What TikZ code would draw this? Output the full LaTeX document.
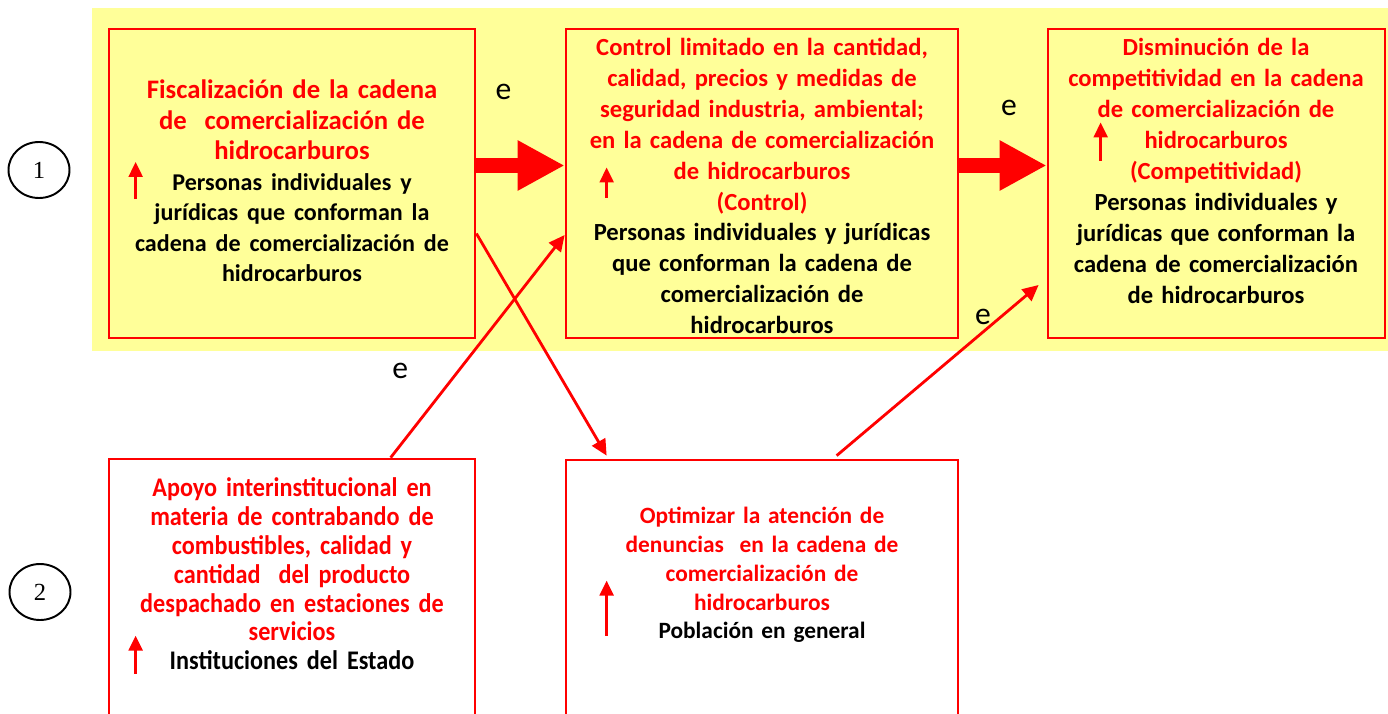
\documentclass[tikz,border=0pt]{standalone}
\usepackage{fontspec}
\setmainfont{Carlito}
\newfontfamily\numfont{Liberation Serif}
\newfontfamily\narrowfont[FakeStretch=0.9, WordSpace=0.8]{Carlito}
\usetikzlibrary{arrows.meta,calc,shapes.geometric}
\definecolor{bgyellow}{HTML}{FFFF99}
\definecolor{boxred}{HTML}{FF0000}

\begin{document}
\begin{tikzpicture}[
    x=0.02cm, y=-0.02cm,
    box/.style={rectangle, draw=boxred, line width=1.6pt, inner sep=0pt},
    txt/.style={align=center, inner sep=0pt, font=\fontsize{14}{17.6}\selectfont\bfseries},
    numcirc/.style={ellipse, draw, line width=1.1pt, minimum width=1.22cm, minimum height=1.12cm, inner sep=0pt, font=\numfont\fontsize{14}{16}\selectfont},
    bigarrow/.style={draw=boxred, line width=0.32cm, -{Triangle[length=0.94cm, width=0.94cm]}},
    link/.style={draw=boxred, line width=1.6pt, -{Triangle[length=0.32cm, width=0.3cm]}},
    uparrow/.style={draw=boxred, line width=1.4pt, -{Triangle[length=0.3cm, width=0.28cm]}},
    elabel/.style={inner sep=0pt, font=\fontsize{18}{20}\selectfont}
]
\useasboundingbox (0,0) rectangle (1388,713);
\clip (0,0) rectangle (1388,713);

% Band 1
\fill[bgyellow] (92,8) rectangle (1388,351);

\node[numcirc] (n1) at (39,170) {1};
\node[numcirc] (n2) at (40,592) {2};

\node[box, minimum width=7.32cm, minimum height=6.18cm] (b1) at (292,183.5) {};
\node[box, minimum width=7.84cm, minimum height=6.18cm] (b2) at (762,183.5) {};
\node[box, minimum width=6.74cm, minimum height=6.18cm] (b3) at (1216.5,183.5) {};

% Band 2
\node[box, fill=white, minimum width=7.32cm, minimum height=6.02cm] (b4) at (292,609.5) {};
\node[box, fill=white, minimum width=7.84cm, minimum height=6.0cm] (b5) at (762,610) {};

% Texts
\node[txt, text width=7cm, font=\fontsize{15.2}{17.4}\selectfont\bfseries] (t1) at (292,181) {\color{boxred}Fiscalización de la cadena\\
    de\ \ comercialización de\\hidrocarburos\\
    \color{black}\fontsize{13.7}{17.4}\selectfont Personas individuales y\\jurídicas que conforman la\\
    cadena de comercialización de\\hidrocarburos};

\node[txt, text width=7.6cm] (t2) at (762,186) {\color{boxred}Control limitado en la cantidad,\\
    calidad, precios y medidas de\\seguridad industria, ambiental;\\
    en la cadena de comercialización\\de hidrocarburos\\(Control)\\
    \color{black}Personas individuales y jurídicas\\que conforman la cadena de\\
    comercialización de\\hidrocarburos};

\node[txt, text width=6.5cm] (t3) at (1216,171) {\color{boxred}Disminución de la\\
    competitividad en la cadena\\de comercialización de\\hidrocarburos\\(Competitividad)\\
    \color{black}Personas individuales y\\jurídicas que conforman la\\
    cadena de comercialización\\de hidrocarburos};

\node[txt, text width=7cm, font=\narrowfont\fontsize{15.3}{16.4}\selectfont\bfseries] (t4) at (292,574) {\color{boxred}Apoyo interinstitucional en\\
    materia de contrabando de\\combustibles, calidad y\\cantidad\ \ del producto\\
    despachado en estaciones de\\servicios\\
    \color{black}Instituciones del Estado};

\node[txt, text width=7.6cm, font=\fontsize{13.3}{16.4}\selectfont\bfseries] (t5) at (762,575) {\color{boxred}Optimizar la atención de\\
    denuncias\ \ en la cadena de\\comercialización de\\hidrocarburos\\
    \color{black}Población en general};

% small arrows
\draw[uparrow] ($(b1.west)+(28,15.5)$) -- ++(0,-37);
\draw[uparrow] ($(b2.west)+(42,14)$) -- ++(0,-30);
\draw[uparrow] ($(b3.west)+(54,-23)$) -- ++(0,-38);
\draw[uparrow] ($(b4.north west)+(28,216)$) -- ++(0,-38);
\draw[uparrow] ($(b5.north west)+(42,177)$) -- ++(0,-55);

% Arrows
\draw[bigarrow] ($(b1.east)+(0,-18)$) -- ($(b2.west)+(0,-18)$)
    node[midway, above=1.15cm, xshift=-0.34cm, elabel] {e};
\draw[bigarrow] ($(b2.east)+(0,-18)$) -- ($(b3.west)+(0,-18)$)
    node[midway, above=0.84cm, xshift=0.12cm, elabel] {e};

\draw[link] ($(b1.east)+(0,50)$) -- ($(b5.north west)+(42,-3)$);
\draw[link] ($(b4.north west)+(283,0)$) -- ($(b2.west)+(0,51.5)$)
    node[pos=0.39, left=0.98cm, elabel] {e};
\draw[link] ($(b5.north west)+(272,-3)$) -- ($(b3.west)+(-8,101.5)$)
    node[pos=0.81, left=0.16cm, elabel] {e};

\end{tikzpicture}
\end{document}
